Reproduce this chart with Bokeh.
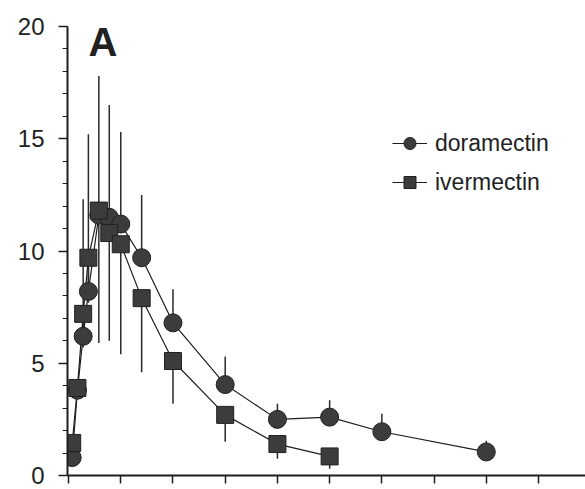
from bokeh.plotting import figure
from bokeh.models import (ColumnDataSource, Range1d, FixedTicker, Label, Legend,
                          LegendItem, CustomJSTickFormatter)
from bokeh.embed import file_html
from bokeh.resources import INLINE

# Sampling times (days) and plasma concentrations (ng/ml)
dora_t = [0.35, 0.85, 1.4, 1.9, 2.9, 3.9, 5, 7, 10, 15, 20, 25, 30, 40]
dora_mean = [0.8, 3.8, 6.2, 8.2, 11.6, 11.5, 11.2, 9.7, 6.8, 4.05, 2.5, 2.6, 1.95, 1.05]
dora_sd = [0.2, 0.3, 6.1, 7.0, 6.2, 5.0, 4.1, 2.8, 1.5, 1.25, 0.7, 0.75, 0.8, 0.5]

iver_t = [0.35, 0.85, 1.4, 1.9, 2.9, 3.9, 5, 7, 10, 15, 20, 25]
iver_mean = [1.45, 3.9, 7.2, 9.7, 11.8, 10.8, 10.3, 7.9, 5.1, 2.7, 1.4, 0.85]
iver_sd = [0.3, 0.5, 1.5, 2.0, 5.9, 4.8, 4.9, 3.3, 1.9, 1.2, 0.65, 0.55]

y_ticks = [0, 5, 10, 15, 20]
x_ticks = [0, 5, 10, 15, 20, 25, 30, 35, 40, 45]

dora = ColumnDataSource(dict(
    t=dora_t, m=dora_mean,
    top=[m + s for m, s in zip(dora_mean, dora_sd)],
))
iver = ColumnDataSource(dict(
    t=iver_t, m=iver_mean,
    bot=[m - s for m, s in zip(iver_mean, iver_sd)],
))

p = figure(width=585, height=489, output_backend="svg", toolbar_location=None,
           x_range=Range1d(-0.1, 49.5), y_range=Range1d(0, 20),
           min_border_left=67, min_border_right=0, min_border_top=26,
           min_border_bottom=14)
p.outline_line_color = None
p.xgrid.visible = False
p.ygrid.visible = False
p.background_fill_color = "white"
p.border_fill_color = "white"

ink = "#1e1e1e"

# error bars: doramectin upward, ivermectin downward
p.segment(x0="t", y0="m", x1="t", y1="top", source=dora, line_color="#2a2a2a", line_width=1.5)
p.segment(x0="t", y0="m", x1="t", y1="bot", source=iver, line_color="#2a2a2a", line_width=1.5)

dl = p.line("t", "m", source=dora, line_color=ink, line_width=1.2)
il = p.line("t", "m", source=iver, line_color=ink, line_width=1.2)
ds = p.scatter("t", "m", source=dora, marker="circle", size=18,
               fill_color="#3c3c3c", line_color="#202020", line_width=1)
is_ = p.scatter("t", "m", source=iver, marker="square", size=17,
                fill_color="#3c3c3c", line_color="#202020", line_width=1)

# axes
for ax in (p.xaxis[0], p.yaxis[0]):
    ax.axis_line_color = ink
    ax.axis_line_width = 2
    ax.major_tick_line_color = ink
    ax.major_tick_line_width = 1.5
    ax.major_tick_in = 0

p.yaxis.ticker = FixedTicker(ticks=y_ticks, minor_ticks=list(range(0, 21)))
p.yaxis.major_tick_out = 9
p.yaxis.minor_tick_out = 5
p.yaxis.minor_tick_in = 0
p.yaxis.minor_tick_line_color = ink
p.yaxis.minor_tick_line_width = 1.2
p.yaxis.major_label_text_font = "Liberation Sans"
p.yaxis.major_label_text_font_size = "24px"
p.yaxis.major_label_text_color = "#222222"
p.yaxis.major_label_standoff = 14

p.xaxis.ticker = FixedTicker(ticks=x_ticks, minor_ticks=[])
p.xaxis.major_tick_out = 8
p.xaxis.minor_tick_line_color = None
p.xaxis.formatter = CustomJSTickFormatter(code="return ''")

# panel letter
p.add_layout(Label(x=1.9, y=19.33, text="A", text_font="Liberation Sans",
                   text_font_style="bold", text_font_size="40px",
                   text_color="#222222", text_baseline="alphabetic"))

legend = Legend(items=[
    LegendItem(label="doramectin", renderers=[dl, ds]),
    LegendItem(label="ivermectin", renderers=[il, is_]),
], location=(325, 278))
legend.glyph_width = 35
legend.glyph_height = 30
legend.spacing = 9
legend.padding = 0
legend.margin = 0
legend.label_standoff = 8
legend.label_text_font = "Liberation Sans"
legend.label_text_font_size = "23px"
legend.label_text_color = "#222222"
legend.border_line_color = None
legend.background_fill_alpha = 0
p.add_layout(legend)

open("out.html", "w").write(file_html(p, INLINE))
